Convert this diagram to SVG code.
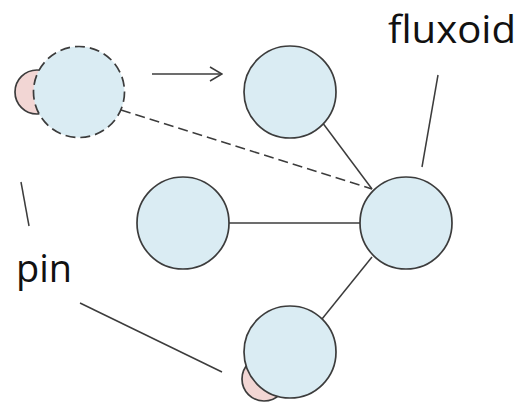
<svg xmlns="http://www.w3.org/2000/svg" width="526" height="404" viewBox="0 0 526 404">
  <style>
    .cell { fill: #daecf3; stroke: #3c3c3c; stroke-width: 1.7; }
    .pin { fill: #f2d6d4; stroke: #3c3c3c; stroke-width: 1.7; }
    .moving { stroke-dasharray: 10 5; }
    .link { stroke: #3c3c3c; stroke-width: 1.5; fill: none; }
    .label { font-family: "Open Sans", "Liberation Sans", sans-serif; font-size: 38px; fill: #111; }
  </style>
  <defs>
    <marker id="open-arrow" viewBox="0 0 14 16" refX="13" refY="8" markerWidth="14" markerHeight="16" markerUnits="userSpaceOnUse" orient="auto">
      <path d="M1,1 L13,8 L1,15" fill="none" stroke="#3c3c3c" stroke-width="1.5"/>
    </marker>
  </defs>
  <rect width="526" height="404" fill="#ffffff"/>

  <!-- connectors and pointer lines -->
  <g id="connectors">
    <line class="link" x1="152" y1="74" x2="222" y2="74" marker-end="url(#open-arrow)"/>
    <line class="link moving" x1="121" y1="110" x2="372" y2="189"/>
    <line class="link" x1="322" y1="122" x2="372" y2="189"/>
    <line class="link" x1="229" y1="223" x2="360" y2="223"/>
    <line class="link" x1="372" y1="257" x2="322" y2="319"/>
    <line class="link" x1="438" y1="75" x2="422" y2="167"/>
    <line class="link" x1="21" y1="182" x2="29" y2="226"/>
    <line class="link" x1="80" y1="303" x2="222" y2="372"/>
  </g>

  <!-- pinned fluxoid, dashed (previous position) -->
  <g id="fluxoid-old">
    <circle class="pin" cx="37" cy="92" r="22"/>
    <circle class="cell moving" cx="79" cy="92" r="45.5"/>
  </g>

  <g id="fluxoid-top">
    <circle class="cell" cx="290" cy="92" r="46"/>
  </g>

  <g id="fluxoid-left">
    <circle class="cell" cx="183" cy="223" r="46"/>
  </g>

  <g id="fluxoid-right">
    <circle class="cell" cx="406" cy="223" r="46"/>
  </g>

  <g id="fluxoid-bottom">
    <circle class="pin" cx="264" cy="379" r="22"/>
    <circle class="cell" cx="290" cy="352" r="46"/>
  </g>

  <g id="labels">
    <text class="label" x="388" y="43" textLength="128" lengthAdjust="spacingAndGlyphs">fluxoid</text>
    <text class="label" x="16" y="282" textLength="56" lengthAdjust="spacingAndGlyphs">pin</text>
  </g>
</svg>
